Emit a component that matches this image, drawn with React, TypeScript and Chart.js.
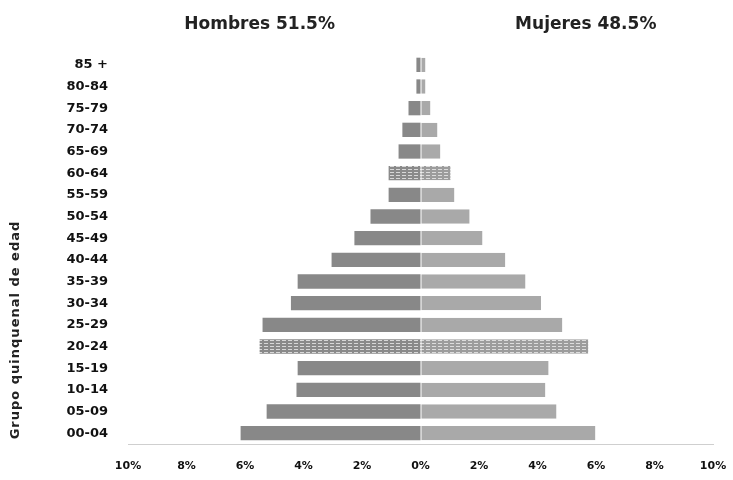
import React, { useEffect, useRef } from "react";
import { Chart, registerables } from "chart.js";

Chart.register(...registerables);

const ageGroups = [
  "00-04", "05-09", "10-14", "15-19", "20-24", "25-29", "30-34", "35-39", "40-44",
  "45-49", "50-54", "55-59", "60-64", "65-69", "70-74", "75-79", "80-84", "85 +",
];
// percentages of total population (men plotted to the left)
const menValues = [6.15, 5.26, 4.24, 4.2, 5.5, 5.4, 4.43, 4.2, 3.04, 2.26, 1.71, 1.09, 1.09, 0.75, 0.62, 0.41, 0.14, 0.14];
const womenValues = [5.98, 4.65, 4.27, 4.38, 5.74, 4.85, 4.12, 3.59, 2.9, 2.12, 1.68, 1.16, 1.03, 0.68, 0.58, 0.34, 0.17, 0.17];
const hatchedGroups = ["20-24", "60-64"];
const xTicks = [-10, -8, -6, -4, -2, 0, 2, 4, 6, 8, 10];
const menTitle = "Hombres 51.5%";
const womenTitle = "Mujeres 48.5%";
const yTitle = "Grupo quinquenal de edad";

const FONT = "'DejaVu Sans', sans-serif";

function makeHatch(base: string, stripe: string): CanvasPattern | string {
  const c = document.createElement("canvas");
  c.width = 6;
  c.height = 3;
  const g = c.getContext("2d");
  if (!g) return base;
  g.fillStyle = base;
  g.fillRect(0, 0, 6, 3);
  g.fillStyle = stripe;
  g.fillRect(0, 1, 4, 1);
  const p = g.createPattern(c, "repeat");
  return p || base;
}

const titlesPlugin = {
  id: "pyramidTitles",
  afterDraw(chart: any) {
    const { ctx, scales } = chart;
    const x = scales.x;
    ctx.save();
    ctx.fillStyle = "#222222";
    ctx.font = `bold 17px ${FONT}`;
    ctx.textAlign = "center";
    ctx.textBaseline = "middle";
    ctx.fillText(menTitle, x.getPixelForValue(-5.5), 25);
    ctx.fillText(womenTitle, x.getPixelForValue(5.65), 25);
    ctx.translate(16, 330);
    ctx.rotate(-Math.PI / 2);
    ctx.font = `bold 13px ${FONT}`;
    (ctx as any).letterSpacing = "1px";
    ctx.fillText(yTitle, 0, 0);
    ctx.restore();
  },
};

export default function App() {
  const ref = useRef<HTMLCanvasElement | null>(null);

  useEffect(() => {
    document.body.style.margin = "0";
    const canvas = ref.current;
    if (!canvas) return;
    const menHatch = makeHatch("#8a8a8a", "#d8d8d8");
    const womenHatch = makeHatch("#9c9c9c", "#dcdcdc");
    const chart = new Chart(canvas, {
      type: "bar",
      data: {
        labels: ageGroups,
        datasets: [
          {
            label: "Hombres",
            data: menValues.map((v) => -v),
            backgroundColor: (c: any) =>
              hatchedGroups.includes(ageGroups[c.dataIndex]) ? menHatch : "#888888",
            borderWidth: 0,
            barPercentage: 0.66,
            categoryPercentage: 1,
          },
          {
            label: "Mujeres",
            data: womenValues,
            backgroundColor: (c: any) =>
              hatchedGroups.includes(ageGroups[c.dataIndex]) ? womenHatch : "#a9a9a9",
            borderColor: "#ffffff",
            borderWidth: { left: 1, right: 0, top: 0, bottom: 0 },
            borderSkipped: false,
            barPercentage: 0.66,
            categoryPercentage: 1,
          },
        ],
      },
      options: {
        indexAxis: "y",
        animation: false,
        responsive: true,
        maintainAspectRatio: false,
        layout: { padding: { top: 54, right: 20, left: 0, bottom: 0 } },
        plugins: {
          legend: { display: false },
          tooltip: { enabled: false },
          title: { display: false },
        },
        scales: {
          x: {
            stacked: true,
            min: -10,
            max: 10,
            afterBuildTicks: (s: any) => {
              s.ticks = xTicks.map((v) => ({ value: v }));
            },
            afterFit: (s: any) => {
              s.height = 36;
              s.paddingLeft = 0;
              s.paddingRight = 0;
            },
            grid: { display: false, drawTicks: false },
            border: { display: true, color: "#cfcfcf", width: 1 },
            ticks: {
              padding: 16,
              color: "#111111",
              font: { family: FONT, size: 11, weight: "bold" },
              callback: (v: any) => `${Math.abs(Number(v))}%`,
            },
          },
          y: {
            stacked: true,
            reverse: true,
            afterFit: (s: any) => {
              s.width = 128;
            },
            grid: { display: false, drawTicks: false },
            border: { display: false },
            ticks: {
              padding: 20,
              color: "#111111",
              font: { family: FONT, size: 13, weight: "bold" },
            },
          },
        },
      },
      plugins: [titlesPlugin],
    } as any);
    return () => chart.destroy();
  }, []);

  return (
    <div style={{ position: "fixed", left: 0, top: 0, width: 733, height: 480, background: "#ffffff" }}>
      <canvas ref={ref} />
    </div>
  );
}
